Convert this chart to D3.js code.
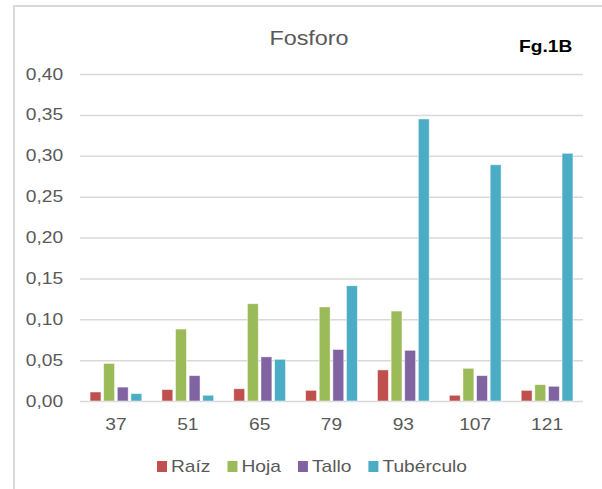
<!DOCTYPE html>
<html>
<head>
<meta charset="utf-8">
<script src="https://cdn.jsdelivr.net/npm/d3@7"></script>
<style>
  body { margin: 0; background: #fff; }
  svg text { font-family: "Liberation Sans", Arial, sans-serif; }
</style>
</head>
<body>
<div id="plot"></div>
<script>
//Chart data
const days = ["37", "51", "65", "79", "93", "107", "121"];
const seriesNames = ["Raíz", "Hoja", "Tallo", "Tubérculo"];
const seriesColors = ["#C0504D", "#9BBB59", "#8064A2", "#4BACC6"];
const raiz = [0.011, 0.014, 0.015, 0.013, 0.038, 0.007, 0.013];
const hoja = [0.046, 0.088, 0.119, 0.115, 0.110, 0.040, 0.020];
const tallo = [0.017, 0.031, 0.054, 0.063, 0.062, 0.031, 0.018];
const tuberculo = [0.009, 0.007, 0.051, 0.141, 0.345, 0.289, 0.303];
const yTicks = [0, 0.05, 0.10, 0.15, 0.20, 0.25, 0.30, 0.35, 0.40];

const allSeries = [raiz, hoja, tallo, tuberculo];

const w = 602;
const h = 489;
const plotLeft = 80, plotRight = 583, plotTop = 74, plotBottom = 401;
//text in the picture is stretched a bit sideways
const stretch = 1.2;
const textColor = "#595959";

const svg = d3.select("#plot")
    .append("svg")
    .attr("width", w)
    .attr("height", h);

//Light frame on the top and left side
svg.append("path")
    .attr("d", "M14," + h + "V6H" + w)
    .attr("fill", "none")
    .attr("stroke", "#d9d9d9")
    .attr("stroke-width", 2);

//Scales
const x0 = d3.scaleBand()
    .domain(days)
    .range([plotLeft, plotRight])
    .paddingInner(0.28)
    .paddingOuter(0.14);

const x1 = d3.scaleBand()
    .domain(seriesNames)
    .range([0, x0.bandwidth()])
    .paddingInner(0.2);

const y = d3.scaleLinear()
    .domain([0, 0.4])
    .range([plotBottom, plotTop]);

const fmt = d => d3.format(".2f")(d).replace(".", ",");

//Y axis with gridlines
const yAxis = svg.append("g")
    .attr("transform", "translate(" + plotLeft + ",0)")
    .call(d3.axisLeft(y)
        .tickValues(yTicks)
        .tickSize(-(plotRight - plotLeft))
        .tickPadding(14)
        .tickFormat(fmt));
yAxis.select(".domain").remove();
yAxis.selectAll(".tick line")
    .attr("stroke", "#d9d9d9")
    .attr("stroke-width", 1.5);
yAxis.selectAll(".tick text")
    .attr("fill", textColor)
    .attr("font-size", 16)
    .attr("transform", "scale(" + stretch + ",1)");

//X axis labels
const xAxis = svg.append("g")
    .attr("transform", "translate(0," + plotBottom + ")")
    .call(d3.axisBottom(x0).tickSize(0).tickPadding(18));
xAxis.select(".domain").remove();
xAxis.selectAll(".tick text")
    .attr("fill", textColor)
    .attr("font-size", 16)
    .attr("transform", "scale(" + stretch + ",1)");

//Bars
const groups = svg.append("g")
    .selectAll("g")
    .data(days)
    .join("g")
    .attr("transform", d => "translate(" + x0(d) + ",0)");

groups.selectAll("rect")
    .data((d, i) => seriesNames.map((s, j) => ({ s: s, v: allSeries[j][i], c: seriesColors[j] })))
    .join("rect")
    .attr("x", d => x1(d.s))
    .attr("y", d => y(d.v))
    .attr("width", x1.bandwidth())
    .attr("height", d => y(0) - y(d.v))
    .attr("fill", d => d.c)
    .attr("stroke", "#ffffff")
    .attr("stroke-opacity", 0.6)
    .attr("stroke-width", 0.8);

//Title and figure label
svg.append("text")
    .attr("transform", "translate(309,45) scale(" + stretch + ",1)")
    .attr("text-anchor", "middle")
    .attr("font-size", 19.5)
    .attr("fill", textColor)
    .text("Fosforo");

svg.append("text")
    .attr("transform", "translate(519,52) scale(" + stretch + ",1)")
    .attr("font-size", 16)
    .attr("font-weight", "bold")
    .attr("fill", "#000")
    .text("Fg.1B");

//Legend
const legend = svg.append("g");
const items = legend.selectAll("g")
    .data(seriesNames)
    .join("g");
items.append("rect")
    .attr("y", 461)
    .attr("width", 10)
    .attr("height", 11)
    .attr("fill", (d, i) => seriesColors[i]);
items.append("text")
    .attr("transform", "translate(14,472) scale(" + stretch + ",1)")
    .attr("font-size", 16)
    .attr("fill", textColor)
    .text(d => d);

//Place legend items one after another, centered
let pos = 0;
const offsets = [];
items.each(function () {
    offsets.push(pos);
    const tw = d3.select(this).select("text").node().getComputedTextLength() * stretch;
    pos += 14 + tw + 17;
});
const total = pos - 17;
const start = 312 - total / 2;
items.attr("transform", (d, i) => "translate(" + (start + offsets[i]) + ",0)");
</script>
</body>
</html>
